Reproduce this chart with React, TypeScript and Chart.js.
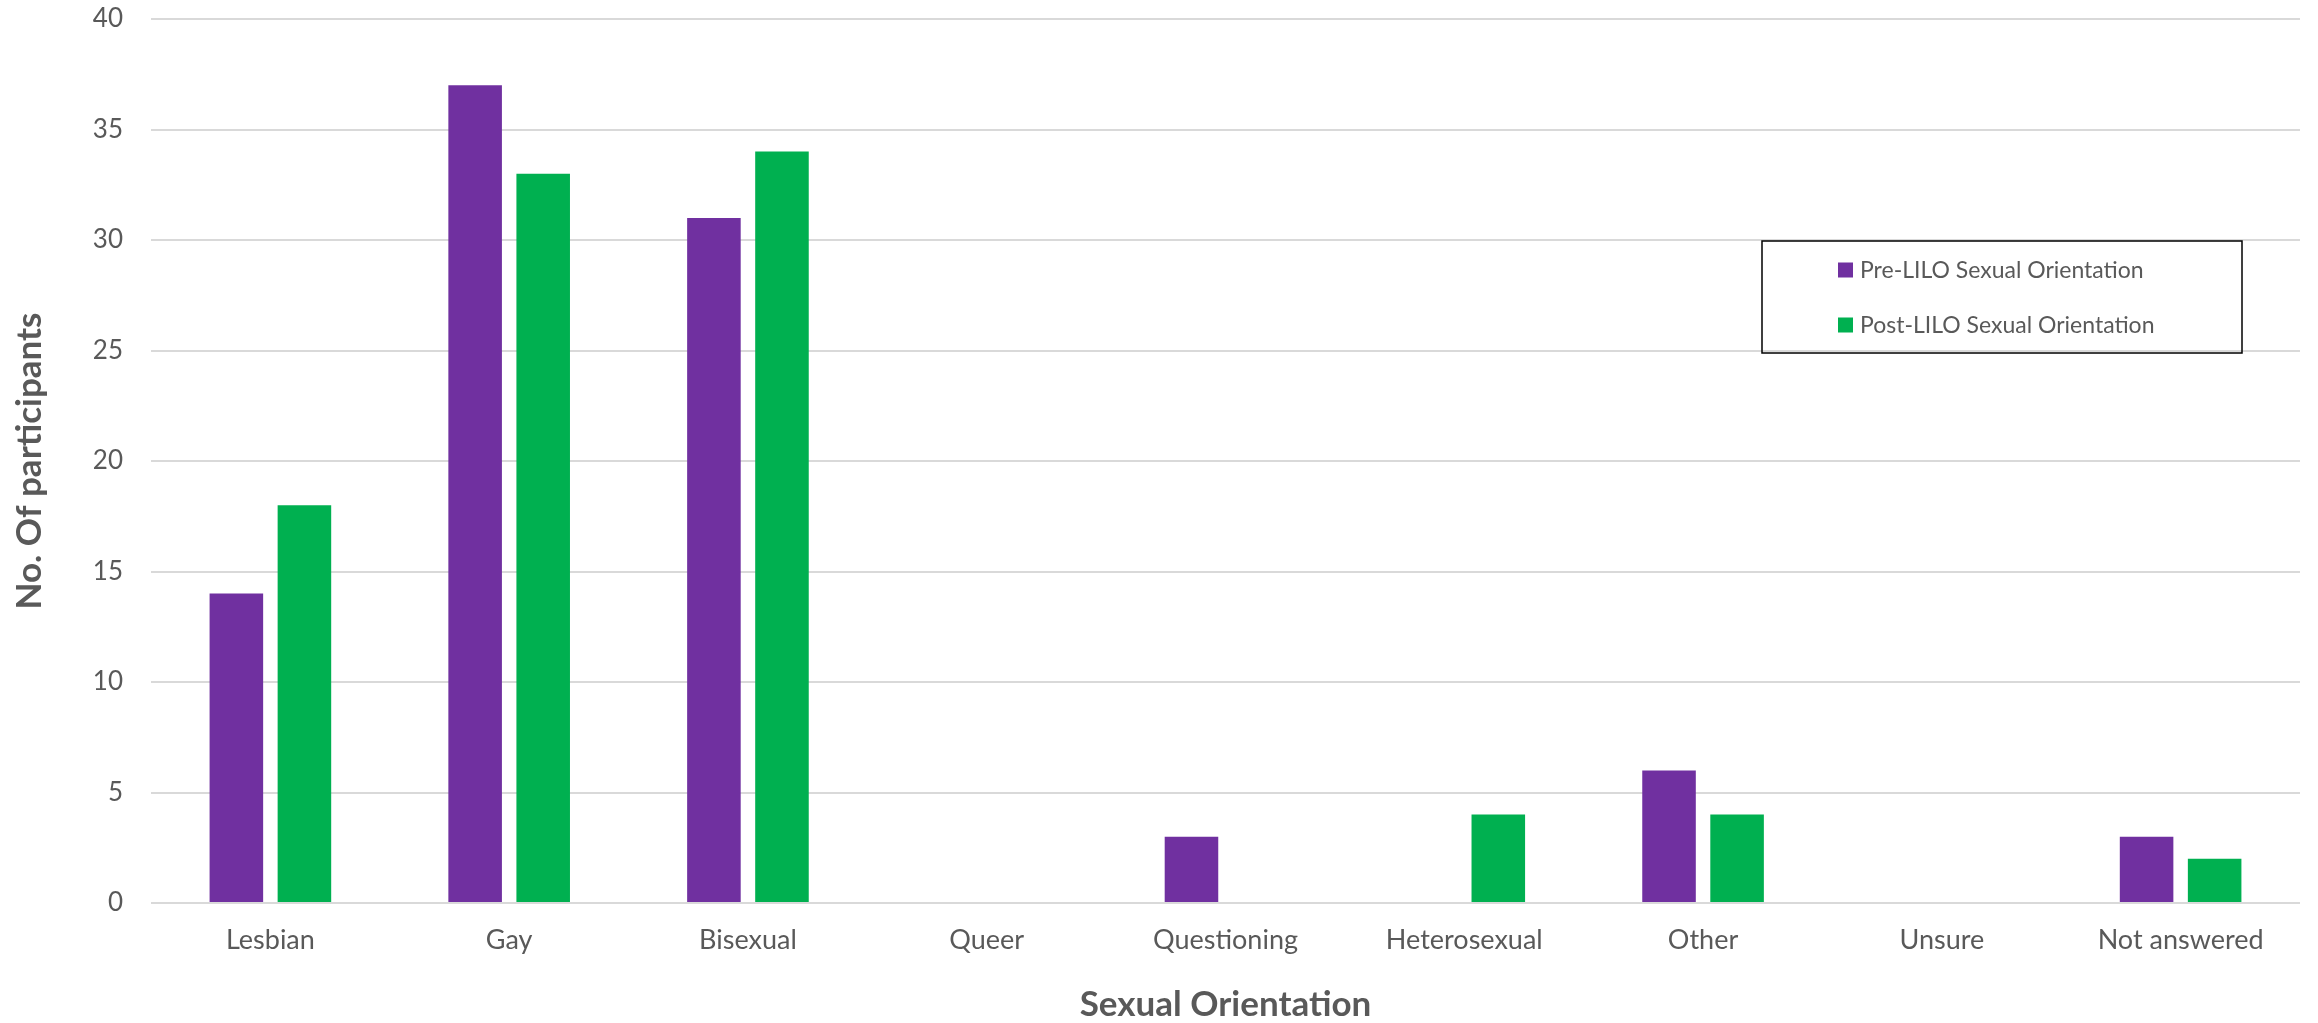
import React, { useEffect, useRef } from "react";
import { Chart, registerables } from "chart.js";

Chart.register(...registerables);

const categories = [
  "Lesbian",
  "Gay",
  "Bisexual",
  "Queer",
  "Questioning",
  "Heterosexual",
  "Other",
  "Unsure",
  "Not answered",
];
const preLabel = "Pre-LILO Sexual Orientation";
const postLabel = "Post-LILO Sexual Orientation";
const preValues = [14, 37, 31, 0, 3, 0, 6, 0, 3];
const postValues = [18, 33, 34, 0, 0, 4, 4, 0, 2];
const yTitle = "No. Of participants";
const xTitle = "Sexual Orientation";
const yMin = 0;
const yMax = 40;
const yStep = 5;

const PURPLE = "#7030A0";
const GREEN = "#00B050";
const TEXT = "#595959";
const FONT = "Lato, 'Open Sans', sans-serif";

const boxLegend = {
  id: "boxLegend",
  afterDraw(chart: any) {
    const ctx = chart.ctx;
    const x = 1762;
    const y = 241;
    const w = 480;
    const h = 112;
    ctx.save();
    ctx.strokeStyle = "#000000";
    ctx.lineWidth = 1.5;
    ctx.strokeRect(x, y, w, h);
    const rows = [270, 325];
    chart.data.datasets.forEach((ds: any, i: number) => {
      const cy = rows[i];
      ctx.fillStyle = ds.backgroundColor;
      ctx.fillRect(x + 76, cy - 7.5, 15, 15);
      ctx.fillStyle = TEXT;
      ctx.font = `23px ${FONT}`;
      ctx.textBaseline = "middle";
      ctx.textAlign = "left";
      ctx.fillText(ds.label, x + 98, cy + 1);
    });
    ctx.restore();
  },
};

export default function App() {
  const ref = useRef<HTMLCanvasElement | null>(null);

  useEffect(() => {
    document.body.style.margin = "0";
    document.body.style.overflow = "hidden";
    const canvas = ref.current;
    if (!canvas) return;
    const chart = new Chart(canvas, {
      type: "bar",
      data: {
        labels: categories,
        datasets: [
          {
            label: preLabel,
            data: preValues,
            backgroundColor: PURPLE,
            categoryPercentage: 0.57,
            barPercentage: 0.787,
          },
          {
            label: postLabel,
            data: postValues,
            backgroundColor: GREEN,
            categoryPercentage: 0.57,
            barPercentage: 0.787,
          },
        ],
      },
      options: {
        animation: false,
        responsive: true,
        maintainAspectRatio: false,
        devicePixelRatio: 1,
        layout: { padding: { top: 19, right: 18, bottom: 0, left: 0 } },
        plugins: {
          legend: { display: false },
          tooltip: { enabled: false },
        },
        scales: {
          x: {
            grid: { display: false, drawTicks: false },
            border: { display: false },
            ticks: {
              color: TEXT,
              font: { family: FONT, size: 27 },
              padding: 21,
              maxRotation: 0,
              autoSkip: false,
            },
            title: {
              display: true,
              text: xTitle,
              color: TEXT,
              font: { family: FONT, size: 35, weight: "bold", lineHeight: 1 },
              padding: { top: 0, bottom: 0.5 },
            },
            afterFit(scale: any) {
              scale.height = 120;
            },
          },
          y: {
            min: yMin,
            max: yMax,
            grid: { color: "#d9d9d9", lineWidth: 2, drawTicks: false },
            border: { display: false },
            ticks: {
              stepSize: yStep,
              color: TEXT,
              font: { family: FONT, size: 26 },
              padding: 28,
            },
            title: {
              display: true,
              text: yTitle,
              color: TEXT,
              font: { family: FONT, size: 35, weight: "bold", lineHeight: 1 },
              padding: { top: 12.5, bottom: 0 },
            },
            afterFit(scale: any) {
              scale.width = 151;
              scale.paddingTop = 0;
              scale.paddingBottom = 0;
            },
          },
        },
      },
      plugins: [boxLegend],
    });
    return () => chart.destroy();
  }, []);

  return (
    <div style={{ position: "relative", width: "2318px", height: "1023px" }}>
      <canvas ref={ref} />
    </div>
  );
}
